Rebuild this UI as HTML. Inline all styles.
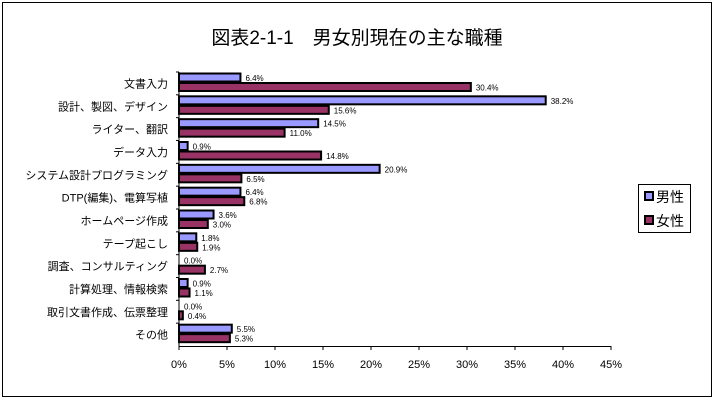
<!DOCTYPE html>
<html><head><meta charset="utf-8"><style>
body{margin:0;background:#fff;}
svg text{font-family:"Liberation Sans","Noto Sans CJK JP",sans-serif;}
</style></head><body>
<svg width="715" height="400" xmlns="http://www.w3.org/2000/svg">
<rect x="2.5" y="2.5" width="709" height="394" fill="#fff" stroke="#000"/>
<text x="357" y="44" font-size="19" text-anchor="middle">図表2-1-1　男女別現在の主な職種</text>
<g id="plot"></g>
<g>
<rect x="638.5" y="184.5" width="52" height="48" fill="#fff" stroke="#000"/>
<rect x="645" y="192" width="8" height="8" fill="#9999ff" stroke="#000" stroke-width="2"/>
<text x="656" y="202" font-size="14">男性</text>
<rect x="645" y="216" width="8" height="8" fill="#993366" stroke="#000" stroke-width="2"/>
<text x="656" y="226" font-size="14">女性</text>
</g>
</svg>
<script>
const categories=["文書入力","設計、製図、デザイン","ライター、翻訳","データ入力","システム設計プログラミング","DTP(編集)、電算写植","ホームページ作成","テープ起こし","調査、コンサルティング","計算処理、情報検索","取引文書作成、伝票整理","その他"];
const male=[6.4,38.2,14.5,0.9,20.9,6.4,3.6,1.8,0.0,0.9,0.0,5.5];
const female=[30.4,15.6,11.0,14.8,6.5,6.8,3.0,1.9,2.7,1.1,0.4,5.3];
const ticks=[0,5,10,15,20,25,30,35,40,45];
const NS="http://www.w3.org/2000/svg";
const g=document.getElementById('plot');
const x0=179,x1=611,yTop=72,yBot=346;
const xs=v=>x0+(v/45)*(x1-x0);
const band=(yBot-yTop)/categories.length;
function mk(t,a){const e=document.createElementNS(NS,t);for(const k in a)e.setAttribute(k,a[k]);g.appendChild(e);return e;}
categories.forEach((c,i)=>{
 const top=yTop+i*band;
 let t=mk('text',{x:168,y:top+band/2+4,'font-size':11,'text-anchor':'end'});t.textContent=c;
 
 
 let tk=mk('line',{x1:x0-3,x2:x0,y1:top,y2:top,stroke:'#000'});
 
 
 [[male[i],'#9999ff',1.5,'bar-male'],[female[i],'#993366',11,'bar-female']].forEach(([v,col,off,nm])=>{
  const w=xs(v)-x0;
  const r=mk('rect',{x:x0,y:top+off,width:Math.max(w,0.01),height:8,fill:col,stroke:'#000','stroke-width':2});
  if(v===0)r.setAttribute('stroke-width',0.5);
  
  
  const l=mk('text',{x:xs(v)+5,y:top+off+7.5,'font-size':8});l.textContent=v.toFixed(1)+'%';
  
  
 });
});
let ya=mk('line',{x1:x0,x2:x0,y1:yTop,y2:yBot,stroke:'#000'});


let xa=mk('line',{x1:x0,x2:x1,y1:yBot+0.5,y2:yBot+0.5,stroke:'#000'});


ticks.forEach(v=>{
 const tk=mk('line',{x1:xs(v),x2:xs(v),y1:yBot,y2:yBot+4,stroke:'#000'});
 
 
 const t=mk('text',{x:xs(v),y:yBot+22,'font-size':11,'text-anchor':'middle'});t.textContent=v+'%';
 
 
});
</script>
</body></html>
